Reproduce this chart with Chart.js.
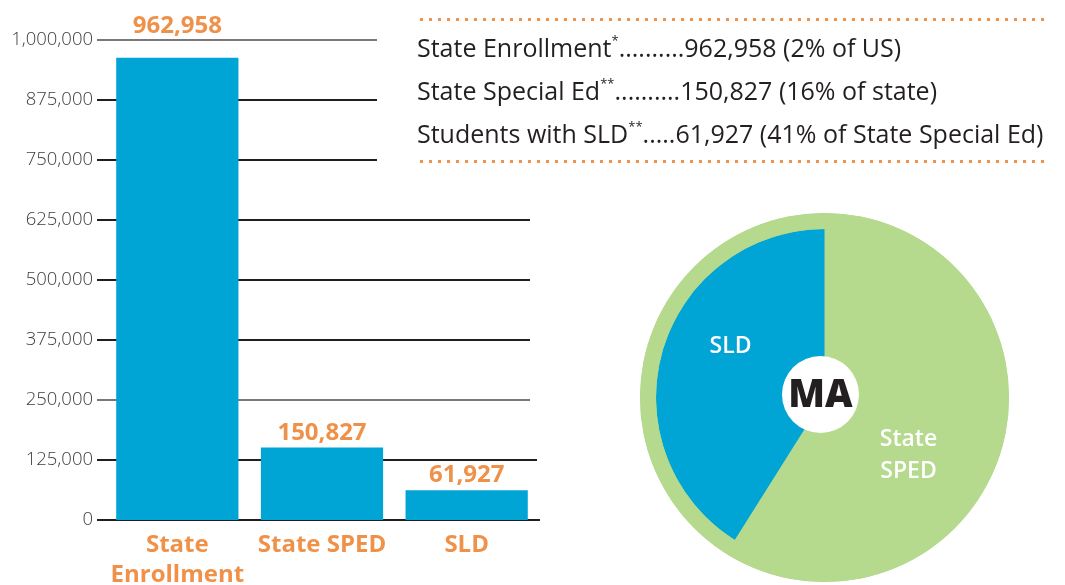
<!DOCTYPE html>
<html>
<head>
<meta charset="utf-8">
<script src="https://cdn.jsdelivr.net/npm/chart.js@4.4.1/dist/chart.umd.min.js"></script>
<style>
  html, body { margin: 0; padding: 0; background: #fff; }
  body { width: 1065px; height: 585px; position: relative; overflow: hidden; font-family: "Open Sans", sans-serif; }
  #bars { position: absolute; left: 0; top: 0; }
  #pie { position: absolute; left: 640px; top: 213px; }
  #facts { position: absolute; left: 417px; top: 17px; width: 630px; color: #231f20; }
  .dots { height: 5px; background: radial-gradient(circle, #f0914a 1.4px, transparent 1.9px) 0 0 / 9px 5px repeat-x; }
  #factLines { padding: 4px 0 4px 0; }
  #facts p { margin: 0; font-size: 25px; line-height: 43px; white-space: nowrap; }
  #facts sup { font-size: 13px; line-height: 0; vertical-align: baseline; position: relative; top: -0.95em; }
</style>
</head>
<body>
<canvas id="bars" width="560" height="585"></canvas>
<canvas id="pie" width="369" height="369"></canvas>
<div id="facts">
  <div class="dots"></div>
  <div id="factLines"></div>
  <div class="dots"></div>
</div>
<script>
// bar chart data
const categories = [['State', 'Enrollment'], 'State SPED', 'SLD'];
const barValues = [962958, 150827, 61927];
const yMax = 1000000;
const yStep = 125000;

// pie: State SPED split into SLD and the rest
const pieLabels = ['State SPED', 'SLD'];
const pieValues = [88900, 61927];
const pieTotal = [150827];

// summary lines (name, mark, leader, value)
const factNames = ['State Enrollment', 'State Special Ed', 'Students with SLD'];
const factMarks = ['*', '**', '**'];
const factLeaders = ['..........', '..........', '.....'];
const factValues = ['962,958 (2% of US)', '150,827 (16% of state)', '61,927 (41% of State Special Ed)'];

const blue = '#00a5d5';
const green = '#b5d98d';
const orange = '#f0914a';
const ink = '#231f20';

Chart.defaults.font.family = '"Open Sans", sans-serif';

factNames.forEach(function (name, i) {
    const p = document.createElement('p');
    p.innerHTML = name + '<sup>' + factMarks[i] + '</sup>' + factLeaders[i] + factValues[i];
    document.getElementById('factLines').appendChild(p);
});

// grid lines stop at different lengths, like the original layout
const gridEnds = [540, 537, 530, 530, 530, 530, 377, 377, 377];

const barGrid = {
    id: 'barGrid',
    beforeDatasetsDraw(chart) {
        const y = chart.scales.y;
        const ctx = chart.ctx;
        const left = chart.chartArea.left - 8;
        ctx.save();
        y.ticks.forEach(function (t, i) {
            const py = Math.round(y.getPixelForValue(t.value));
            const thin = t.value === 1000000 || t.value === 250000;
            ctx.strokeStyle = thin ? '#4d4d4f' : ink;
            ctx.lineWidth = thin ? 1.4 : 2.2;
            ctx.beginPath();
            ctx.moveTo(left, py);
            ctx.lineTo(gridEnds[i], py);
            ctx.stroke();
        });
        ctx.restore();
    }
};

const barLabels = {
    id: 'barLabels',
    afterDatasetsDraw(chart) {
        const ctx = chart.ctx;
        const meta = chart.getDatasetMeta(0);
        const data = chart.data.datasets[0].data;
        const top = chart.chartArea.top;
        ctx.save();
        ctx.font = 'bold 24px "Open Sans"';
        ctx.fillStyle = orange;
        ctx.textAlign = 'center';
        ctx.textBaseline = 'alphabetic';
        meta.data.forEach(function (bar, i) {
            let yy = bar.y - 8;
            if (yy - 20 < top + 4) yy = top - 7;
            ctx.fillText(data[i].toLocaleString('en-US'), bar.x, yy);
        });
        ctx.restore();
    }
};

new Chart(document.getElementById('bars'), {
    type: 'bar',
    data: {
        labels: categories,
        datasets: [{
            data: barValues,
            backgroundColor: blue,
            categoryPercentage: 1,
            barPercentage: 0.845
        }]
    },
    options: {
        responsive: false,
        animation: false,
        devicePixelRatio: 1,
        layout: { padding: { top: 40, right: 21, bottom: 0, left: 0 } },
        plugins: { legend: { display: false }, tooltip: { enabled: false } },
        scales: {
            x: {
                grid: { display: false, drawTicks: false },
                border: { display: false },
                ticks: {
                    color: orange,
                    font: { size: 24, weight: 'bold', lineHeight: 1.25 },
                    padding: 10,
                    maxRotation: 0,
                    autoSkip: false
                },
                afterFit(s) { s.height = 65; }
            },
            y: {
                min: 0,
                max: yMax,
                grid: { display: false, drawTicks: false },
                border: { display: false },
                ticks: {
                    stepSize: yStep,
                    color: '#3d3d3f',
                    font: { size: 18.5, weight: 300 },
                    padding: 12,
                    callback: v => v.toLocaleString('en-US')
                },
                afterFit(s) { s.width = 105; }
            }
        }
    },
    plugins: [barGrid, barLabels]
});

const pieDecor = {
    id: 'pieDecor',
    beforeDatasetsDraw(chart) {
        const a = chart.chartArea;
        const cx = (a.left + a.right) / 2, cy = (a.top + a.bottom) / 2;
        const r = chart.getDatasetMeta(0).data[0].outerRadius;
        const ctx = chart.ctx;
        ctx.save();
        ctx.fillStyle = green;
        ctx.beginPath();
        ctx.arc(cx, cy, r, 0, Math.PI * 2);
        ctx.fill();
        ctx.restore();
    },
    afterDatasetsDraw(chart) {
        const a = chart.chartArea;
        const cx = (a.left + a.right) / 2, cy = (a.top + a.bottom) / 2;
        const ctx = chart.ctx;
        ctx.save();
        ctx.fillStyle = '#fff';
        ctx.beginPath();
        ctx.arc(cx - 4, cy - 3, 38.5, 0, Math.PI * 2);
        ctx.fill();
        ctx.fillStyle = ink;
        ctx.textAlign = 'center';
        ctx.textBaseline = 'middle';
        ctx.font = '800 38px "Open Sans"';
        ctx.fillText('MA', cx - 4, cy - 1);
        ctx.fillStyle = '#fff';
        ctx.font = '600 23px "Open Sans"';
        ctx.fillText(pieLabels[1], cx - 94, cy - 51);
        ctx.fillText('State', cx + 84, cy + 42);
        ctx.fillText('SPED', cx + 84, cy + 74);
        ctx.restore();
    }
};

new Chart(document.getElementById('pie'), {
    type: 'pie',
    data: {
        labels: pieLabels,
        datasets: [
            { data: pieTotal, backgroundColor: [green], borderWidth: 0, weight: 16 },
            { data: pieValues, backgroundColor: [green, blue], borderWidth: 0, weight: 168.5 }
        ]
    },
    options: {
        responsive: false,
        animation: false,
        devicePixelRatio: 1,
        layout: { padding: 0 },
        plugins: { legend: { display: false }, tooltip: { enabled: false } }
    },
    plugins: [pieDecor]
});
</script>
</body>
</html>
